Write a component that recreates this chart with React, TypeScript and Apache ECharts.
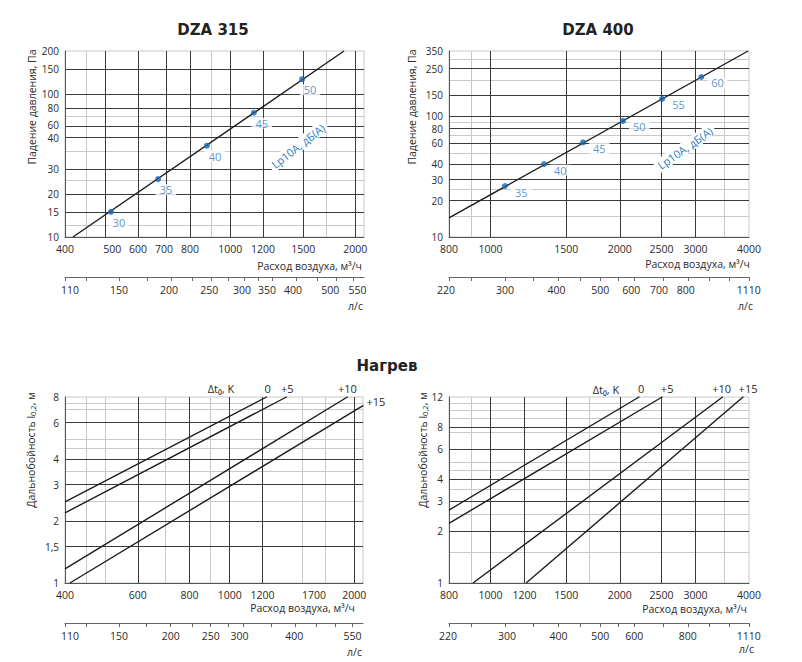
import React, { useEffect, useRef } from 'react';
import * as echarts from 'echarts';

// ---------------- DATA ----------------
// DZA 315 – pressure drop
const p315CurveFlow = [418, 1880];
const p315CurvePressure = [10, 200];
const p315PointFlow = [516, 670, 879, 1140, 1490];
const p315PointPressure = [15, 25.4, 43.5, 74, 127];
const p315PointLabels = ['30', '35', '40', '45', '50'];
const p315XLabels = [400, 500, 600, 700, 800, 1000, 1200, 1500, 2000];
const p315XLabelTexts = ['400', '500', '600', '700', '800', '1000', '1200', '1500', '2000'];
const p315XDark = [500, 600, 700, 800, 1000, 1200, 1500, 2000];
const p315XLight = [450, 900, 1700];
const p315YLabels = [10, 15, 20, 30, 50, 60, 80, 100, 150, 200];
const p315YLabelTexts = ['10', '15', '20', '30', '40', '60', '80', '100', '150', '200'];
const p315YDark = [15, 20, 30, 50, 60, 80, 100, 150];
const p315YLight = [12, 25, 40, 70];
const p315Ls = [110, 150, 200, 250, 300, 350, 400, 500, 550];
const p315LsTexts = ['110', '150', '200', '250', '300', '350', '400', '500', '550'];
const p315LsMinor = [125, 175, 225, 275, 325, 450];

// DZA 400 – pressure drop
const p400CurveFlow = [800, 3980];
const p400CurvePressure = [14.4, 350];
const p400PointFlow = [1080, 1332, 1642, 2035, 2510, 3097];
const p400PointPressure = [26.5, 40.3, 61, 92, 140, 213];
const p400PointLabels = ['35', '40', '45', '50', '55', '60'];
const p400XLabels = [800, 1000, 1500, 2000, 2500, 3000, 4000];
const p400XLabelTexts = ['800', '1000', '1500', '2000', '2500', '3000', '4000'];
const p400XDark = [1000, 1500, 2000, 2500, 3000];
const p400XLight = [900, 3500];
const p400YLabels = [10, 20, 30, 40, 60, 80, 100, 150, 250, 350];
const p400YLabelTexts = ['10', '20', '30', '40', '60', '80', '100', '150', '250', '350'];
const p400YDark = [20, 30, 40, 60, 80, 100, 150, 250];
const p400YLight = [15, 25, 50, 70, 90, 200, 300];
const p400Ls = [220, 300, 400, 500, 600, 700, 800, 1110];
const p400LsTexts = ['220', '300', '400', '500', '600', '700', '800', '1110'];
const p400LsMinor = [250, 350, 450, 550, 900, 1000];

// Heating – DZA 315 throw
const h315Names = ['0', '+5', '+10', '+15'];
const h315StartFlow = [400, 400, 400, 411];
const h315StartThrow = [2.48, 2.19, 1.17, 1];
const h315EndFlow = [1228, 1371, 1925, 2100];
const h315EndThrow = [8, 8, 8, 7.26];
const h315XLabels = [400, 600, 800, 1000, 1200, 1700, 2000];
const h315XLabelTexts = ['400', '600', '800', '1000', '1200', '1700', '2000'];
const h315XDark = [600, 800, 1000, 1200, 2000];
const h315XLight = [450, 500, 700, 900, 1500, 1700];
const h315YLabels = [1, 1.5, 2, 3, 4, 6, 8];
const h315YLabelTexts = ['1', '1,5', '2', '3', '4', '6', '8'];
const h315YDark = [1.5, 2, 3, 4, 6];
const h315YLight = [2.5, 3.5, 4.5, 5, 7, 7.5];
const h315Ls = [110, 150, 200, 250, 300, 400, 550];
const h315LsTexts = ['110', '150', '200', '250', '300', '400', '550'];
const h315LsMinor = [125, 175, 225, 275, 350, 450, 500];

// Heating – DZA 400 throw
const h400Names = ['0', '+5', '+10', '+15'];
const h400StartFlow = [800, 800, 910, 1210];
const h400StartThrow = [2.65, 2.22, 1, 1];
const h400EndFlow = [2218, 2510, 3472, 3874];
const h400EndThrow = [12, 12, 12, 12];
const h400XLabels = [800, 1000, 1200, 1500, 2000, 2500, 3000, 4000];
const h400XLabelTexts = ['800', '1000', '1200', '1500', '2000', '2500', '3000', '4000'];
const h400XDark = [1000, 1200, 1500, 2000, 2500, 3000];
const h400XLight = [900, 1700, 3500];
const h400YLabels = [1, 2, 3, 4, 6, 8, 12];
const h400YLabelTexts = ['1', '2', '3', '4', '6', '8', '12'];
const h400YDark = [2, 3, 4, 6, 8];
const h400YLight = [1.5, 2.5, 3.5, 4.5, 5, 7.5, 9, 10, 11];
const h400Ls = [220, 300, 400, 500, 600, 800, 1110];
const h400LsTexts = ['220', '300', '400', '500', '600', '800', '1110'];
const h400LsMinor = [250, 350, 450, 550, 700, 900, 1000];

const M3H_PER_LS = 3.6;

// ---------------- STYLE / LAYOUT ----------------
const FONT = '"Open Sans", "Noto Sans", "DejaVu Sans", sans-serif';
const TITLE_FONT = '"DejaVu Sans", "Open Sans", sans-serif';
const DARK = '#3a3a3a';
const LIGHT = '#c8c8c8';
const AXIS = '#555555';
const TEXT = '#2b2b2b';
const BLUE = '#1767b3';
const BLUE_TEXT = '#2a7cc2';
const CURVE = '#1c1c1c';
const LABEL_SIZE = 10.5;
const Y_LABEL_SIZE = 10;

const GRIDS = [
  { left: 65, top: 51, width: 299, height: 186 },
  { left: 449, top: 51, width: 300, height: 186 },
  { left: 65, top: 397, width: 298, height: 186 },
  { left: 449, top: 397, width: 300, height: 186 },
];

// horizontal nudges (px) of individual x tick labels, as printed in the reference
const SHIFT_X = [
  [0, 7, 0, -2, 0, 0, 0, 0, 0],
  [0, 0, 0, 0, 0, 0, 0],
  [0, 0, 0, 0, 0, -11, 0],
  [0, 0, 0, 0, 0, 0, 0, 0],
];
const SHIFT_LS = [
  [5, 0, -2, -2, -2, -5, -3, -6, 4],
  [-3, 0, -2, 0, -3, -4, -2, 0],
  [5, 0, 0, 0, -4, -1, 0],
  [-1, 2, 0, 0, 0, 0, 0],
];
// vertical nudges (px, + = down) of individual y tick labels
const SHIFT_Y = [
  [0, 0, 0, 0, 1, -1, 0, 0, 0, 0],
  [0, 0, 0, 0, 0, 1, -1, 0, 0, 0],
  [0, 0, 0, 0, 0, 0, 0],
  [0, 0, 0, 0, 0, 0, 0],
];

interface Panel {
  xMin: number; xMax: number; yMin: number; yMax: number;
  xLabels: number[]; xLabelTexts: string[]; xDark: number[]; xLight: number[];
  yLabels: number[]; yLabelTexts: string[]; yDark: number[]; yLight: number[];
  ls: number[]; lsTexts: string[]; lsMinor: number[];
}

const PANELS: Panel[] = [
  { xMin: 400, xMax: 2100, yMin: 10, yMax: 200, xLabels: p315XLabels, xLabelTexts: p315XLabelTexts, xDark: p315XDark, xLight: p315XLight, yLabels: p315YLabels, yLabelTexts: p315YLabelTexts, yDark: p315YDark, yLight: p315YLight, ls: p315Ls, lsTexts: p315LsTexts, lsMinor: p315LsMinor },
  { xMin: 800, xMax: 4000, yMin: 10, yMax: 350, xLabels: p400XLabels, xLabelTexts: p400XLabelTexts, xDark: p400XDark, xLight: p400XLight, yLabels: p400YLabels, yLabelTexts: p400YLabelTexts, yDark: p400YDark, yLight: p400YLight, ls: p400Ls, lsTexts: p400LsTexts, lsMinor: p400LsMinor },
  { xMin: 400, xMax: 2100, yMin: 1, yMax: 8, xLabels: h315XLabels, xLabelTexts: h315XLabelTexts, xDark: h315XDark, xLight: h315XLight, yLabels: h315YLabels, yLabelTexts: h315YLabelTexts, yDark: h315YDark, yLight: h315YLight, ls: h315Ls, lsTexts: h315LsTexts, lsMinor: h315LsMinor },
  { xMin: 800, xMax: 4000, yMin: 1, yMax: 12, xLabels: h400XLabels, xLabelTexts: h400XLabelTexts, xDark: h400XDark, xLight: h400XLight, yLabels: h400YLabels, yLabelTexts: h400YLabelTexts, yDark: h400YDark, yLight: h400YLight, ls: h400Ls, lsTexts: h400LsTexts, lsMinor: h400LsMinor },
];

const fit = (v: number, lo: number, hi: number) => Math.min(hi * 0.99995, Math.max(lo * 1.00005, v));

const nearestIndex = (vals: number[], v: number) => {
  let bi = 0;
  let bd = Infinity;
  for (let i = 0; i < vals.length; i++) {
    const d = Math.abs(Math.log(vals[i]) - Math.log(v));
    if (d < bd) { bd = d; bi = i; }
  }
  return bi;
};

const shiftKey = (s: number) => 's' + (s < 0 ? 'm' : 'p') + Math.abs(s);

// rich styles that nudge a label by padding one side
const buildRich = (shifts: number[], vertical: boolean, size: number) => {
  const rich: any = {};
  shifts.forEach((s) => {
    if (!s) return;
    const a = Math.max(0, 2 * s);
    const b = Math.max(0, -2 * s);
    rich[shiftKey(s)] = {
      fontSize: size, fontFamily: FONT, color: TEXT,
      padding: vertical ? [a, 0, b, 0] : [0, b, 0, a],
    };
  });
  return rich;
};

const shiftedFormatter = (vals: number[], texts: string[], shifts: number[]) => (v: number) => {
  const i = nearestIndex(vals, v);
  const s = shifts[i] || 0;
  return s ? `{${shiftKey(s)}|${texts[i]}}` : texts[i];
};

const labelStyle = { color: TEXT, fontSize: LABEL_SIZE, fontFamily: FONT };

function buildOption() {
  const grid: any[] = [];
  const xAxis: any[] = [];
  const yAxis: any[] = [];
  PANELS.forEach((p, i) => {
    grid.push({ ...GRIDS[i], show: true, borderColor: LIGHT, borderWidth: 1, backgroundColor: 'transparent', containLabel: false, outerBoundsMode: 'none' });
    const fx = (v: number) => fit(v, p.xMin, p.xMax);
    const fy = (v: number) => fit(v, p.yMin, p.yMax);
    const xLab = p.xLabels.map(fx);
    const yLab = p.yLabels.map(fy);
    const lsPos = p.ls.map((v) => fx(v * M3H_PER_LS));
    const lsMinorPos = p.lsMinor.map((v) => fx(v * M3H_PER_LS));
    // main x axis (dark grid + labels)
    xAxis.push({
      type: 'log', logBase: 10, gridIndex: i, min: p.xMin, max: p.xMax, position: 'bottom', z: 2,
      axisLine: { show: true, onZero: false, lineStyle: { color: AXIS, width: 1 } },
      axisTick: { show: false, customValues: p.xDark.map(fx) },
      axisLabel: {
        ...labelStyle, customValues: xLab, margin: 6, hideOverlap: false, showMinLabel: true, showMaxLabel: true,
        formatter: shiftedFormatter(xLab, p.xLabelTexts, SHIFT_X[i]), rich: buildRich(SHIFT_X[i], false, LABEL_SIZE),
      },
      splitLine: { show: true, lineStyle: { color: DARK, width: 1 } },
    });
    // light x grid
    xAxis.push({
      type: 'log', logBase: 10, gridIndex: i, min: p.xMin, max: p.xMax, position: 'top', z: 1,
      axisLine: { show: false }, axisLabel: { show: false },
      axisTick: { show: false, customValues: p.xLight.map(fx) },
      splitLine: { show: true, lineStyle: { color: LIGHT, width: 1 } },
    });
    // л/с axis
    xAxis.push({
      type: 'log', logBase: 10, gridIndex: i, min: p.xMin, max: p.xMax, position: 'bottom', offset: 40, z: 2,
      axisLine: { show: true, onZero: false, lineStyle: { color: '#666', width: 1 } },
      axisTick: { show: true, length: 4, customValues: lsPos.concat(lsMinorPos), lineStyle: { color: '#666', width: 1 } },
      axisLabel: {
        ...labelStyle, customValues: lsPos, margin: 7, hideOverlap: false, showMinLabel: true, showMaxLabel: true,
        formatter: shiftedFormatter(lsPos, p.lsTexts, SHIFT_LS[i]), rich: buildRich(SHIFT_LS[i], false, LABEL_SIZE),
      },
      splitLine: { show: false },
    });
    yAxis.push({
      type: 'log', logBase: 10, gridIndex: i, min: p.yMin, max: p.yMax, position: 'left', z: 2,
      axisLine: { show: true, onZero: false, lineStyle: { color: AXIS, width: 1 } },
      axisTick: { show: false, customValues: p.yDark.map(fy) },
      axisLabel: {
        color: TEXT, fontSize: Y_LABEL_SIZE, fontFamily: FONT, customValues: yLab, margin: 6, hideOverlap: false, showMinLabel: true, showMaxLabel: true,
        formatter: shiftedFormatter(yLab, p.yLabelTexts, SHIFT_Y[i]), rich: buildRich(SHIFT_Y[i], true, Y_LABEL_SIZE),
      },
      splitLine: { show: true, lineStyle: { color: DARK, width: 1 } },
    });
    yAxis.push({
      type: 'log', logBase: 10, gridIndex: i, min: p.yMin, max: p.yMax, position: 'right', z: 1,
      axisLine: { show: false }, axisLabel: { show: false },
      axisTick: { show: false, customValues: p.yLight.map(fy) },
      splitLine: { show: true, lineStyle: { color: LIGHT, width: 1 } },
    });
  });

  const series: any[] = [];
  const pressurePanels = [
    { flow: p315CurveFlow, pres: p315CurvePressure, pf: p315PointFlow, pp: p315PointPressure, pl: p315PointLabels, pos: 'bottom', off: [8, 0] },
    { flow: p400CurveFlow, pres: p400CurvePressure, pf: p400PointFlow, pp: p400PointPressure, pl: p400PointLabels, pos: 'right', off: [1, 6] },
  ];
  pressurePanels.forEach((d, i) => {
    series.push({
      type: 'line', xAxisIndex: i * 3, yAxisIndex: i * 2, symbol: 'none', silent: true, z: 3,
      lineStyle: { color: CURVE, width: 1.4 },
      data: d.flow.map((f, k) => [f, d.pres[k]]),
    });
    series.push({
      type: 'scatter', xAxisIndex: i * 3, yAxisIndex: i * 2, symbol: 'circle', symbolSize: 6, silent: true, z: 4,
      itemStyle: { color: BLUE },
      label: { show: true, position: d.pos, distance: 2, offset: d.off, formatter: '{b}', color: BLUE_TEXT, fontSize: 11, fontFamily: FONT, backgroundColor: '#fff', padding: [0, 4] },
      data: d.pf.map((f, k) => ({ name: d.pl[k], value: [f, d.pp[k]] })),
    });
  });

  const heatPanels = [
    { names: h315Names, sf: h315StartFlow, st: h315StartThrow, ef: h315EndFlow, et: h315EndThrow, pos: ['top', 'top', 'top', 'right'], off: [[1, 0], [1, 0], [0, 0], [0, -4]] },
    { names: h400Names, sf: h400StartFlow, st: h400StartThrow, ef: h400EndFlow, et: h400EndThrow, pos: ['top', 'top', 'top', 'top'], off: [[2, 0], [5, 0], [-1, 0], [5, 0]] },
  ];
  heatPanels.forEach((d, j) => {
    const i = j + 2;
    d.names.forEach((nm, k) => {
      series.push({
        type: 'line', name: nm, xAxisIndex: i * 3, yAxisIndex: i * 2, symbol: 'none', silent: true, clip: false, z: 3,
        lineStyle: { color: CURVE, width: 1.4 },
        data: [
          [d.sf[k], d.st[k]],
          {
            value: [d.ef[k], d.et[k]], symbol: 'circle', symbolSize: 1, itemStyle: { color: CURVE },
            label: { show: true, formatter: nm, position: d.pos[k], distance: 3, offset: d.off[k], color: TEXT, fontSize: 11, fontFamily: FONT },
          },
        ],
      });
    });
  });

  const txt = (text: string, x: number, y: number, extra: any = {}) => ({
    type: 'text', x, y, z: 10, silent: true,
    style: { text, fill: TEXT, fontSize: 10.5, fontFamily: FONT, align: 'center', verticalAlign: 'middle', ...extra },
  });
  const rot = (el: any, angleDeg: number) => ({ ...el, rotation: (angleDeg * Math.PI) / 180 });
  const throwRich = {
    a: { fontSize: 10.5, fontFamily: FONT, fill: TEXT },
    b: { fontSize: 7.5, fontFamily: FONT, fill: TEXT, padding: [4, 0, 0, 0] },
  };

  const graphic: any[] = [
    txt('DZA 315', 213, 30, { fontSize: 15, fontWeight: 'bold', fontFamily: TITLE_FONT, fill: '#222' }),
    txt('DZA 400', 598, 30, { fontSize: 15, fontWeight: 'bold', fontFamily: TITLE_FONT, fill: '#222' }),
    txt('Нагрев', 387, 366, { fontSize: 15, fontWeight: 'bold', fontFamily: TITLE_FONT, fill: '#222' }),
    txt('Расход воздуха, м³/ч', 362, 266, { align: 'right' }),
    txt('Расход воздуха, м³/ч', 750, 264, { align: 'right' }),
    txt('Расход воздуха, м³/ч', 355, 608, { align: 'right' }),
    txt('Расход воздуха, м³/ч', 747, 609, { align: 'right' }),
    txt('л/с', 363, 306, { align: 'right' }),
    txt('л/с', 753, 306, { align: 'right' }),
    txt('л/с', 362, 652, { align: 'right' }),
    txt('л/с', 754, 649, { align: 'right' }),
    rot(txt('Падение давления, Па', 32, 107), 90),
    rot(txt('Падение давления, Па', 412, 107), 90),
    rot(txt('', 31, 450, { text: '{a|Дальнобойность l}{b|0,2}{a|, м}', rich: throwRich }), 90),
    rot(txt('', 423, 450, { text: '{a|Дальнобойность l}{b|0,2}{a|, м}', rich: throwRich }), 90),
    txt('Δt₀, K', 221, 388, { fontSize: 11 }),
    txt('Δt₀, K', 606, 389, { fontSize: 11 }),
    rot(txt('Lp10A, дБ(A)', 298, 146, { fill: BLUE_TEXT, fontSize: 11, backgroundColor: '#fff', padding: [1, 3] }), 38),
    rot(txt('Lp10A, дБ(A)', 685, 148, { fill: BLUE_TEXT, fontSize: 11, backgroundColor: '#fff', padding: [1, 3] }), 35),
  ];

  return {
    animation: false,
    backgroundColor: '#ffffff',
    textStyle: { fontFamily: FONT },
    grid,
    xAxis,
    yAxis,
    series,
    graphic,
  };
}

export default function App() {
  const ref = useRef<HTMLDivElement>(null);
  useEffect(() => {
    if (!ref.current) return;
    const chart = echarts.init(ref.current, null, { renderer: 'svg' });
    chart.setOption(buildOption() as any);
    return () => chart.dispose();
  }, []);
  return (
    <div
      ref={ref}
      style={{ position: 'fixed', left: 0, top: 0, width: 802, height: 662, background: '#fff' }}
    />
  );
}
